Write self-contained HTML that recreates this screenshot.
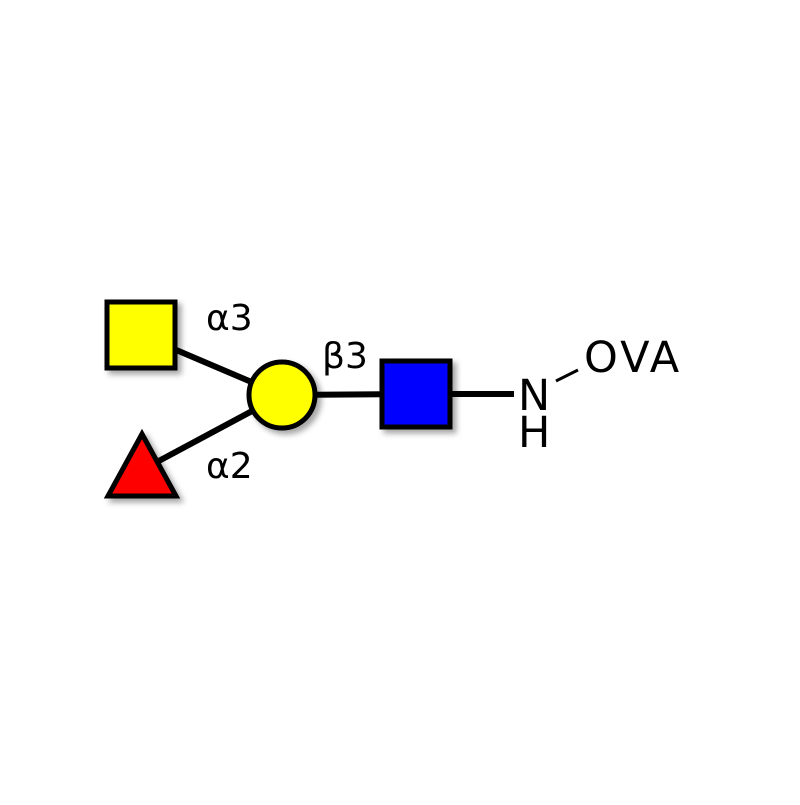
<!DOCTYPE html>
<html><head><style>body{margin:0;background:#fff}</style></head><body>
<svg width="800" height="800" viewBox="0 0 800 800" xmlns="http://www.w3.org/2000/svg">
<defs><filter id="s" x="-30%" y="-30%" width="160%" height="160%"><feDropShadow dx="4" dy="4" stdDeviation="3" flood-color="#000" flood-opacity="0.35"/></filter></defs>
<g stroke="#000" stroke-width="6">
<line x1="141" y1="335" x2="282" y2="395"/>
<line x1="142" y1="470" x2="282" y2="395"/>
<line x1="282" y1="395" x2="416" y2="394"/>
<line x1="416" y1="394" x2="514" y2="394"/>
</g>
<line x1="556" y1="381" x2="578" y2="370" stroke="#000" stroke-width="3"/>
<g stroke="#000" stroke-width="5" filter="url(#s)">
<rect x="107" y="302" width="68" height="66" fill="#ffff00"/>
<circle cx="282" cy="395" r="33" fill="#ffff00"/>
<rect x="382" y="361" width="68" height="66" fill="#0000ff"/>
<polygon points="142,434 176,496 108,496" fill="#ff0000" stroke-linejoin="miter"/>
</g>
<g font-family="DejaVu Sans, Liberation Sans, sans-serif" fill="#000">
<text x="206" y="330" font-size="36">α3</text>
<text x="322" y="368" font-size="36">β3</text>
<text x="206" y="478" font-size="36">α2</text>
<text x="518" y="410" font-size="43">N</text>
<text x="518" y="447" font-size="43">H</text>
<text x="584" y="372" font-size="43" letter-spacing="3">OVA</text>
</g>
</svg>
</body></html>
